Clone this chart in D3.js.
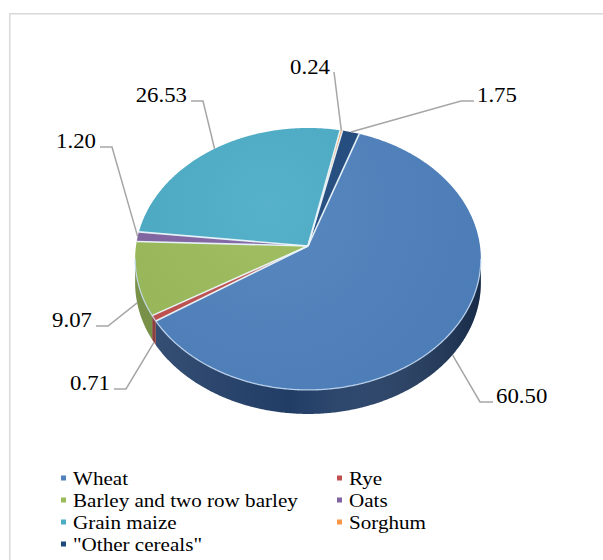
<!DOCTYPE html>
<html>
<head>
<meta charset="utf-8">
<script src="https://cdn.jsdelivr.net/npm/d3@7/dist/d3.min.js"></script>
<style>
  html, body { margin: 0; padding: 0; background: #fff; }
  svg { display: block; }
</style>
</head>
<body>
<svg id="chart" width="603" height="560"></svg>
<script>
// Cereal production shares (%)
const categories = ["Wheat", "Rye", "Barley and two row barley", "Oats", "Grain maize", "Sorghum", "\"Other cereals\""];
const values = [60.50, 0.71, 9.07, 1.20, 26.53, 0.24, 1.75];
const valueLabels = ["60.50", "0.71", "9.07", "1.20", "26.53", "0.24", "1.75"];

// Office palette: top faces and darker side faces
const topColors  = ["#4f81bd", "#c0504d", "#9bbb59", "#8064a2", "#4bacc6", "#f79646", "#1f497d"];
const sideColors = ["#213d66", "#7f2f2d", "#6a8535", "#55406f", "#2f7a8e", "#b86a2b", "#142f52"];

// Label placement: [text x, baseline y, text-anchor, has elbow]
const labelLayout = [
  [496, 403, "start", true],
  [110, 390, "end", true],
  [92, 327, "end", true],
  [96, 148, "end", true],
  [187, 102, "end", true],
  [330, 74, "end", false],
  [477, 102, "start", true]
];

const svg = d3.select("#chart");

// chart area frame (continues past the right and bottom edges)
svg.append("rect")
  .attr("x", 9.75).attr("y", 13.75)
  .attr("width", 800).attr("height", 800)
  .attr("fill", "#fff")
  .attr("stroke", "#d9d9d9").attr("stroke-width", 1.5);

// 3D pie geometry: tilted disc with mild perspective
const cx = 308, cy = 246;     // projected centre of the disc
const RX = 172, RY = 129.7;   // projected radii
const P = 0.099;              // perspective factor
const DEPTH = 24;             // thickness of the disc

function proj(theta, dz) {
  const u = Math.sin(theta), v = Math.cos(theta);
  const d = 1 + P * v;
  return [cx + RX * u / d, cy - RY * v / d + (dz || 0)];
}

const deg = Math.PI / 180;
const startAngle = 19 * deg;
const pie = d3.pie().sort(null).value(d => d)
  .startAngle(startAngle).endAngle(startAngle + 2 * Math.PI);
const arcs = pie(values);

function arcPoints(a0, a1, dz) {
  const n = Math.max(2, Math.ceil((a1 - a0) / (0.5 * deg)));
  const pts = [];
  for (let i = 0; i <= n; i++) pts.push(proj(a0 + (a1 - a0) * i / n, dz));
  return pts;
}

const defs = svg.append("defs");
const sideGrad = defs.append("linearGradient").attr("id", "sideShade")
  .attr("gradientUnits", "userSpaceOnUse")
  .attr("x1", cx - RX).attr("y1", 0).attr("x2", cx + RX).attr("y2", 0);
sideGrad.append("stop").attr("offset", "0%").attr("stop-color", "#fff").attr("stop-opacity", 0.10);
sideGrad.append("stop").attr("offset", "45%").attr("stop-color", "#fff").attr("stop-opacity", 0.0);
sideGrad.append("stop").attr("offset", "100%").attr("stop-color", "#000").attr("stop-opacity", 0.30);

const topGrad = defs.append("radialGradient").attr("id", "topShade")
  .attr("gradientUnits", "userSpaceOnUse")
  .attr("cx", cx - 40).attr("cy", cy - 40).attr("r", 260);
topGrad.append("stop").attr("offset", "0%").attr("stop-color", "#fff").attr("stop-opacity", 0.06);
topGrad.append("stop").attr("offset", "100%").attr("stop-color", "#000").attr("stop-opacity", 0.04);

const line = d3.line();

// visible side band: front half of the disc between the silhouette points
const sideStart = Math.acos(-P);              // right silhouette
const sideEnd = 2 * Math.PI - Math.acos(-P);  // left silhouette
const twoPi = 2 * Math.PI;

const sides = svg.append("g");
arcs.forEach((a, i) => {
  const s = a.startAngle, e = a.endAngle;
  const segs = e > twoPi ? [[s, twoPi], [0, e - twoPi]] : [[s, e]];
  segs.forEach(([s0, e0]) => {
    const lo = Math.max(s0, sideStart), hi = Math.min(e0, sideEnd);
    if (hi <= lo) return;
    const pts = arcPoints(lo, hi, 0).concat(arcPoints(lo, hi, DEPTH).reverse());
    sides.append("path").attr("d", line(pts) + "Z").attr("fill", sideColors[i]);
    sides.append("path").attr("d", line(pts) + "Z").attr("fill", "url(#sideShade)");
  });
});

// top faces
const tops = svg.append("g");
arcs.forEach((a, i) => {
  const pts = [[cx, cy]].concat(arcPoints(a.startAngle, a.endAngle, 0));
  tops.append("path").attr("d", line(pts) + "Z").attr("fill", topColors[i]);
  tops.append("path").attr("d", line(pts) + "Z").attr("fill", "url(#topShade)");
});

// slice separators
arcs.forEach(a => {
  const p = proj(a.startAngle, 0);
  tops.append("line")
    .attr("x1", cx).attr("y1", cy).attr("x2", p[0]).attr("y2", p[1])
    .attr("stroke", "#eaf5fb").attr("stroke-width", 1.6).attr("stroke-opacity", 0.95);
});

// bright rim along the front edge of the top face
tops.append("path")
  .attr("d", line(arcPoints(sideStart, sideEnd, 0)))
  .attr("fill", "none").attr("stroke", "#c5dbf2").attr("stroke-width", 1.3).attr("stroke-opacity", 0.85);

// data labels with leader lines
const labels = svg.append("g");
arcs.forEach((a, i) => {
  const mid = (a.startAngle + a.endAngle) / 2;
  const front = Math.cos(mid) < 0;
  const anchorPt = proj(mid, front ? DEPTH : 0);
  const [tx, ty, ta, elbow] = labelLayout[i];
  let pts;
  if (elbow) {
    const ly = ty - 1;
    if (ta === "start") pts = [[tx - 3, ly], [tx - 16, ly], anchorPt];
    else pts = [[tx + 4, ly], [tx + 16, ly], anchorPt];
  } else {
    pts = [[tx + 4, ty - 2], anchorPt];
  }
  labels.append("path").attr("d", line(pts))
    .attr("fill", "none").attr("stroke", "#a6a6a6").attr("stroke-width", 1.5);
  labels.append("text")
    .attr("transform", `translate(${tx},${ty}) scale(1.14,1)`)
    .attr("text-anchor", ta)
    .attr("font-family", "'Liberation Serif', 'Times New Roman', serif")
    .attr("font-size", 20)
    .attr("fill", "#000")
    .text(valueLabels[i]);
});

// legend: two columns, filled row by row
const legend = svg.append("g");
const legX = [61, 337], legY0 = 485, legDY = 22;
categories.forEach((c, i) => {
  const col = i % 2, row = Math.floor(i / 2);
  const x = legX[col], y = legY0 + row * legDY;
  legend.append("rect")
    .attr("x", x).attr("y", y - 9.5).attr("width", 5).attr("height", 5)
    .attr("fill", topColors[i]);
  legend.append("text")
    .attr("transform", `translate(${x + 12},${y}) scale(1.14,1)`)
    .attr("font-family", "'Liberation Serif', 'Times New Roman', serif")
    .attr("font-size", 18.5)
    .attr("fill", "#000")
    .text(c);
});
</script>
</body>
</html>
